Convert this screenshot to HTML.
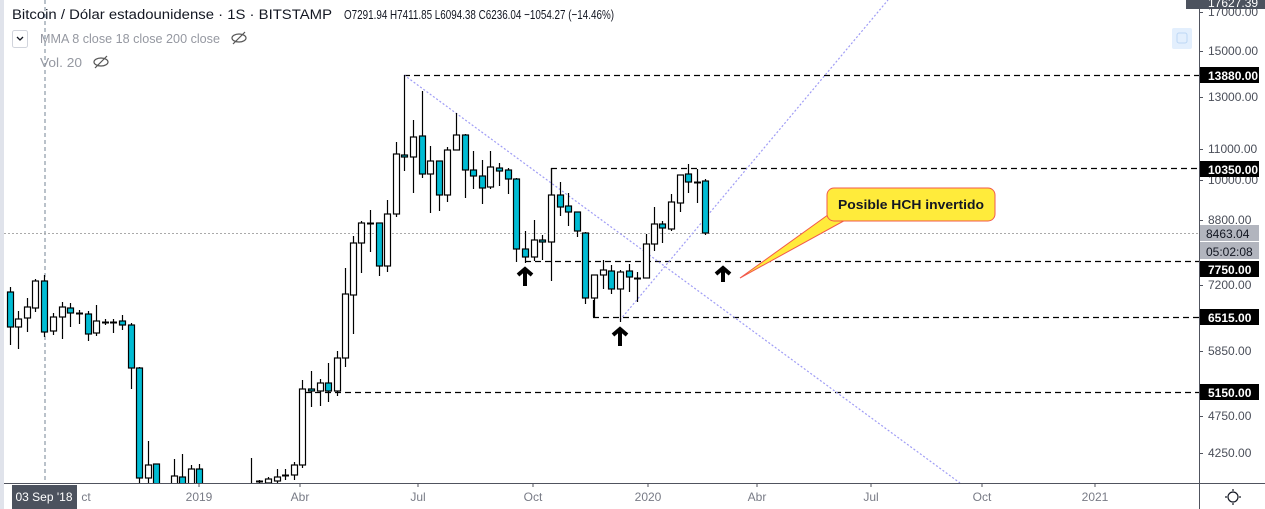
<!DOCTYPE html>
<html><head><meta charset="utf-8"><style>
html,body{margin:0;padding:0;background:#fff;width:1265px;height:509px;overflow:hidden}
svg{display:block;font-family:"Liberation Sans",sans-serif}
</style></head><body>
<svg id="s" width="1265" height="509" xmlns="http://www.w3.org/2000/svg">
<rect x="0" y="0" width="1265" height="509" fill="#fff"/>
<rect x="0" y="0" width="4" height="509" fill="#e0e3eb"/>
<defs><clipPath id="c"><rect x="4" y="0" width="1195" height="483"/></clipPath></defs>
<line x1="45" y1="0" x2="45" y2="483" stroke="#758696" stroke-dasharray="4,3" stroke-width="1"/>
<line x1="4" y1="233.5" x2="1199" y2="233.5" stroke="#aaa" stroke-dasharray="2,2" stroke-width="1"/>
<g stroke="#000" stroke-width="1.2" stroke-dasharray="6,4">
<line x1="404" y1="75.5" x2="1199" y2="75.5"/>
<line x1="551" y1="168.5" x2="1199" y2="168.5"/>
<line x1="525" y1="261.5" x2="1199" y2="261.5"/>
<line x1="593" y1="317.5" x2="1199" y2="317.5"/>
<line x1="305" y1="392.5" x2="1199" y2="392.5"/>
</g>
<g stroke="#000" stroke-width="1.2"><line x1="551.5" y1="168" x2="551.5" y2="195"/><line x1="593.5" y1="300" x2="593.5" y2="317"/></g>
<g clip-path="url(#c)" stroke="#9f9cf5" stroke-width="1.2" stroke-dasharray="2,2">
<line x1="404" y1="75" x2="960" y2="483"/>
<line x1="620" y1="320" x2="888" y2="0"/>
</g>
<g id="cd" clip-path="url(#c)"></g>
<g fill="none" stroke="#000" stroke-width="4" stroke-linejoin="miter">
<path d="M518 275 l7 -6 l7 6 M525 270 v16"/>
<path d="M613 335 l7 -6 l7 6 M620 330 v16"/>
<path d="M716 274 l7 -6 l7 6 M723 269 v13"/>
</g>
<path d="M740 278 L832 212 L860 212 Z" fill="#ffeb3b" stroke="#f2594b" stroke-width="1"/>
<rect x="827" y="188" width="168" height="33" rx="7" fill="#ffeb3b" stroke="#f2594b" stroke-width="1"/>
<rect x="833" y="209" width="30" height="6" fill="#ffeb3b"/>
<text x="838" y="209" font-size="13" font-weight="bold" textLength="146" lengthAdjust="spacingAndGlyphs" fill="#131722">Posible HCH invertido</text>
<line x1="1199.5" y1="0" x2="1199.5" y2="509" stroke="#50535e"/>
<line x1="4" y1="483.5" x2="1265" y2="483.5" stroke="#50535e"/>
<rect x="1172" y="28" width="20" height="21" rx="2" fill="#e3effd"/>
<rect x="1177" y="33" width="10" height="10" rx="2" fill="none" stroke="#bcd7f5"/>
<g font-size="12" fill="#4a4e59" id="pl"></g>
<rect x="1186" y="0" width="79" height="9" fill="#4c525e"/>
<text x="1208" y="7" font-size="12" fill="#fff">17627.39</text>
<g font-size="12" fill="#787b86" text-anchor="middle">
<text x="86" y="501">ct</text><text x="199" y="501">2019</text><text x="300" y="501">Abr</text><text x="418" y="501">Jul</text><text x="533" y="501">Oct</text><text x="648" y="501">2020</text><text x="757" y="501">Abr</text><text x="871" y="501">Jul</text><text x="982" y="501">Oct</text><text x="1095" y="501">2021</text>
</g>
<g stroke="#50535e"><line x1="199" y1="483" x2="199" y2="487"/><line x1="300" y1="483" x2="300" y2="487"/><line x1="418" y1="483" x2="418" y2="487"/><line x1="533" y1="483" x2="533" y2="487"/><line x1="648" y1="483" x2="648" y2="487"/><line x1="757" y1="483" x2="757" y2="487"/><line x1="871" y1="483" x2="871" y2="487"/><line x1="982" y1="483" x2="982" y2="487"/><line x1="1095" y1="483" x2="1095" y2="487"/></g>
<rect x="12" y="485" width="65" height="24" fill="#4c525e"/>
<text x="44" y="501" font-size="12" fill="#fff" text-anchor="middle">03 Sep '18</text>
<circle cx="1233" cy="497" r="5" fill="none" stroke="#131722" stroke-width="1.2"/>
<g stroke="#131722" stroke-width="1.2"><line x1="1233" y1="489" x2="1233" y2="491"/><line x1="1233" y1="503" x2="1233" y2="505"/><line x1="1225" y1="497" x2="1227" y2="497"/><line x1="1239" y1="497" x2="1241" y2="497"/></g>
<text x="12" y="19" font-size="13.5" fill="#131722" textLength="320" lengthAdjust="spacingAndGlyphs">Bitcoin / Dólar estadounidense · 1S · BITSTAMP</text>
<text x="344" y="19" font-size="13" fill="#131722" textLength="270" lengthAdjust="spacingAndGlyphs">O7291.94 H7411.85 L6094.38 C6236.04 −1054.27 (−14.46%)</text>
<rect x="12.5" y="30.5" width="15" height="17" rx="2" fill="#fff" stroke="#d1d4dc"/>
<path d="M17 37 l3 3 l3 -3" fill="none" stroke="#131722" stroke-width="1.3"/>
<text x="40" y="43" font-size="12.5" fill="#9598a1" textLength="180" lengthAdjust="spacingAndGlyphs">MMA 8 close 18 close 200 close</text>
<text x="40" y="67" font-size="12.5" fill="#9598a1" textLength="42" lengthAdjust="spacingAndGlyphs">Vol. 20</text>
<g fill="none" stroke="#555" stroke-width="1.2"><ellipse cx="239" cy="38" rx="7" ry="4"/><line x1="233" y1="44" x2="245" y2="32"/><ellipse cx="101" cy="62" rx="7" ry="4"/><line x1="95" y1="68" x2="107" y2="56"/></g>
</svg>
<script>
var D=[[10,292,327,287,345,1],[18,327,319,311,349,0],[27,318,307,298,332,0],[35,308,281,279,312,0],[44,281,332,275,337,1],[53,331,317,313,335,0],[62,317,307,302,339,0],[70,308,313,303,327,1],[79,313,314,310,324,1],[88,314,334,311,341,1],[96,333,321,305,336,0],[105,322,322,319,325,2],[113,322,322,319,333,2],[122,321,325,315,330,1],[131,325,368,323,389,1],[139,368,478,367,483,1],[148,478,465,441,483,0],[156,464,490,464,490,1],[174,490,476,459,490,0],[182,477,490,454,490,1],[191,490,469,465,490,0],[199,469,490,464,490,1],[251,490,490,458,490,2],[259,481,481,480,483,2],[268,483,479,477,483,0],[277,481,477,469,483,0],[285,475,475,469,480,2],[294,475,465,462,480,0],[302,465,389,380,468,0],[311,389,391,371,407,1],[320,391,383,379,406,0],[328,383,391,363,402,1],[337,391,358,351,396,0],[345,358,294,268,367,0],[353,295,243,236,334,0],[361,243,223,221,273,0],[370,223,223,210,252,2],[379,223,266,223,276,1],[387,266,214,200,272,0],[396,214,154,142,217,0],[404,155,157,75,171,1],[413,157,137,120,193,0],[422,136,174,91,178,1],[430,174,161,146,213,0],[439,161,195,161,211,1],[447,195,150,147,202,0],[456,150,135,113,150,0],[465,135,170,134,198,1],[473,170,176,151,189,1],[482,176,188,160,204,1],[490,187,167,151,189,0],[499,168,171,163,186,1],[508,170,179,168,194,1],[516,179,249,178,262,1],[525,249,257,231,263,1],[534,257,240,220,261,0],[542,240,242,235,260,1],[551,242,195,168,281,0],[560,195,207,182,216,1],[568,206,212,193,226,1],[577,212,231,212,237,1],[585,233,298,232,304,1],[594,298,275,275,317,0],[603,275,270,260,289,0],[611,271,289,265,294,1],[620,289,272,270,322,0],[629,271,277,264,292,1],[637,278,278,272,302,2],[646,278,244,234,278,0],[654,244,224,207,251,0],[662,224,228,221,243,1],[671,229,202,194,231,0],[680,203,175,175,212,0],[688,174,182,164,193,1],[697,182,182,169,203,2],[705,181,233,179,235,1]];
var g=document.getElementById('cd'),h='';
D.forEach(function(d){var x=d[0],t=Math.min(d[1],d[2]),b=Math.max(d[1],d[2]);
h+='<line x1="'+(x+.5)+'" y1="'+d[3]+'" x2="'+(x+.5)+'" y2="'+d[4]+'" stroke="#000" stroke-width="1.2"/>';
if(d[5]==2||b-t<1.5){h+='<line x1="'+(x-3)+'" y1="'+(t+.5)+'" x2="'+(x+4)+'" y2="'+(t+.5)+'" stroke="#000" stroke-width="2"/>';}
else h+='<rect x="'+(x-2.5)+'" y="'+t+'" width="6" height="'+(b-t)+'" fill="'+(d[5]?'#00bcd4':'#fff')+'" stroke="#000" stroke-width="1.2"/>';});
g.innerHTML=h;
var P=[[17000,12],[15000,51],[13000,97],[11000,149],[10000,180],[8800,220],[7200,285],[5850,351],[4750,416],[4250,453]],p='';
P.forEach(function(q){p+='<line x1="1199" y1="'+(q[1]+.5)+'" x2="1203" y2="'+(q[1]+.5)+'" stroke="#50535e"/><text x="1208" y="'+(q[1]+4)+'">'+q[0]+'.00</text>';});
[[13880,75],[10350,169],[7750,269],[6515,317],[5150,392]].forEach(function(q){p+='<rect x="1200" y="'+(q[1]-8)+'" width="59" height="16" fill="#000"/><text x="1208" y="'+(q[1]+5)+'" fill="#fff" font-weight="bold">'+q[0]+'.00</text>';});
p+='<rect x="1200" y="225" width="59" height="16" fill="#b2b5be"/><text x="1206" y="238" fill="#131722">8463.04</text>';
p+='<rect x="1200" y="242" width="59" height="17" fill="#b2b5be"/><text x="1206" y="256" fill="#131722">05:02:08</text>';
document.getElementById('pl').innerHTML=p;
</script>
</body></html>
